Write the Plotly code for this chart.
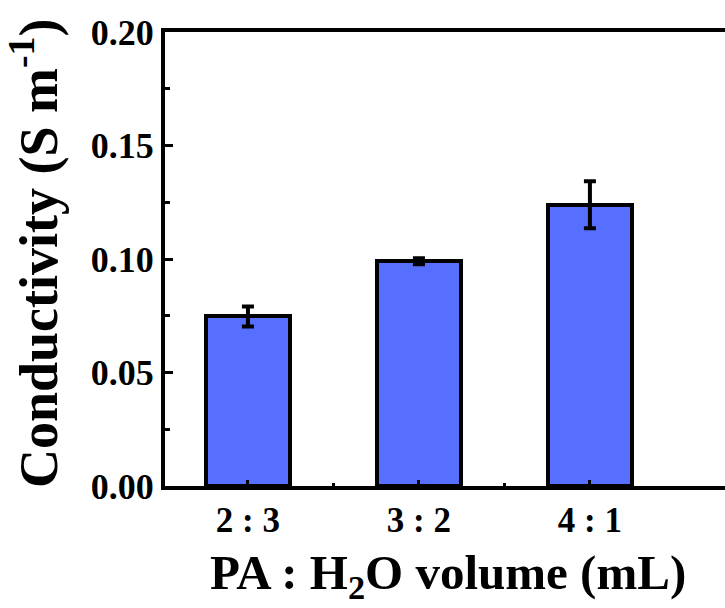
import plotly.graph_objects as go

categories = ["2 : 3", "3 : 2", "4 : 1"]
positions = [0, 1, 2]
conductivity = [0.0747, 0.0990, 0.1239]
errors = [0.0044, 0.0013, 0.0104]
y_ticks = [0.00, 0.05, 0.10, 0.15, 0.20]
y_tick_labels = ["0.00", "0.05", "0.10", "0.15", "0.20"]
x_minor_ticks = [0.5, 1.5]

FONT = "Liberation Serif, Times New Roman, Times, serif"

fig = go.Figure()
fig.add_trace(go.Bar(
    x=positions, y=conductivity, width=0.49,
    marker=dict(color="#566FFE", line=dict(color="black", width=4)),
    error_y=dict(type="data", array=errors, visible=True,
                 color="black", thickness=4, width=6),
    showlegend=False,
))

fig.update_layout(
    width=725, height=608,
    margin=dict(l=165, r=0, t=32, b=122),
    plot_bgcolor="white", paper_bgcolor="white",
    font=dict(family=FONT, color="black"),
    bargap=0,
)

fig.update_xaxes(
    range=[-0.485, 2.79],
    tickvals=positions, ticktext=["<b>%s</b>" % c for c in categories],
    tickfont=dict(family=FONT, size=35, color="black"),
    ticks="inside", ticklen=6, tickwidth=3, tickcolor="black",
    minor=dict(tickvals=x_minor_ticks, ticks="inside", ticklen=3, tickwidth=3, tickcolor="black"),
    showline=True, linecolor="black", linewidth=4, mirror=True,
    showgrid=False, zeroline=False,
)
fig.update_yaxes(
    range=[0, 0.2],
    tickvals=y_ticks, ticktext=["<b>%s</b>" % t for t in y_tick_labels],
    tickfont=dict(family=FONT, size=36, color="black"),
    ticks="inside", ticklen=8, tickwidth=3, tickcolor="black",
    minor=dict(dtick=0.025, ticks="inside", ticklen=5, tickwidth=3, tickcolor="black"),
    showline=True, linecolor="black", linewidth=4, mirror=False,
    showgrid=False, zeroline=False,
)

fig.add_annotation(
    text="<b>Conductivity (S m<sup>-1</sup>)</b>",
    xref="paper", yref="paper", x=0, y=0.5,
    xanchor="center", yanchor="middle", xshift=-131, yshift=6,
    textangle=-90, showarrow=False,
    font=dict(family=FONT, size=54, color="black"),
)
fig.add_annotation(
    text="<b>PA : H<sub>2</sub>O volume (mL)</b>",
    xref="paper", yref="paper", x=0.5, y=0,
    xanchor="center", yanchor="top", yshift=-57, xshift=3,
    showarrow=False,
    font=dict(family=FONT, size=49, color="black"),
)

fig.write_html("out.html")
